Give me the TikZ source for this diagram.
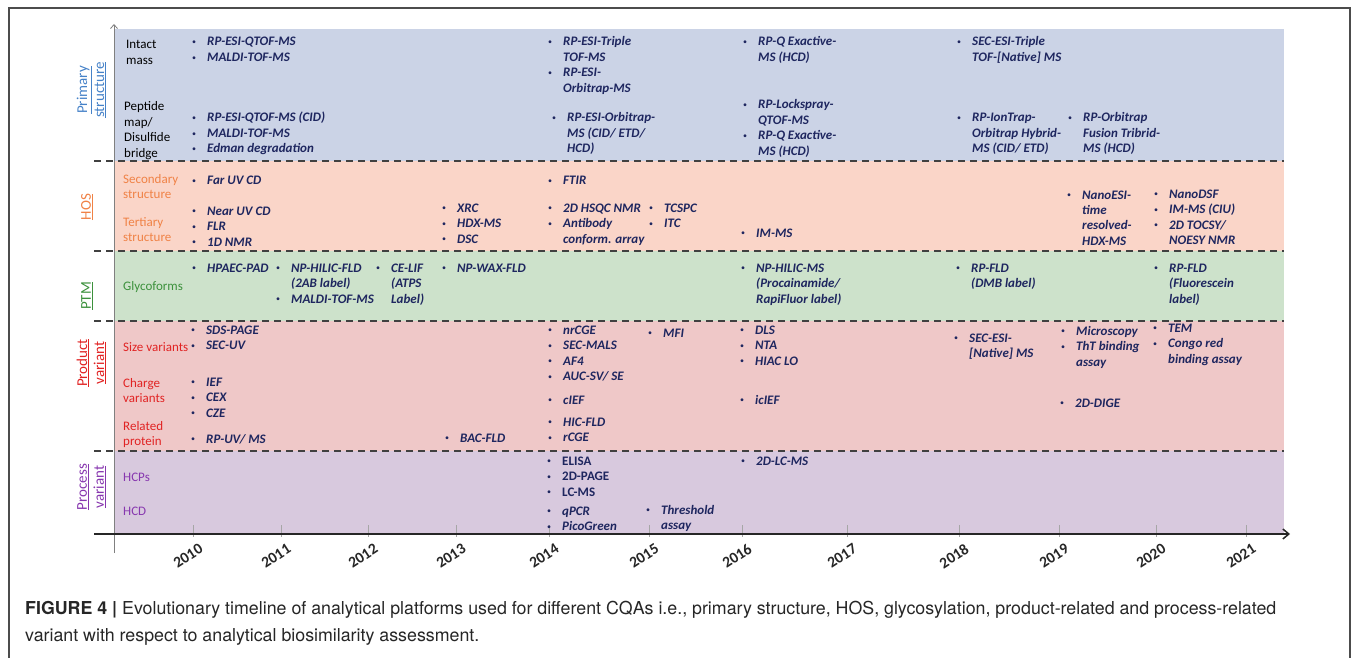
\documentclass[tikz,border=0pt]{standalone}
\usepackage{fontspec}
\setmainfont{Carlito}
\newfontfamily\capfont{TeX Gyre Heros}
\usetikzlibrary{arrows.meta}
\definecolor{bPrim}{RGB}{203,211,230}
\definecolor{bHOS}{RGB}{250,213,200}
\definecolor{bPTM}{RGB}{205,226,203}
\definecolor{bProd}{RGB}{239,200,200}
\definecolor{bProc}{RGB}{216,201,222}
\definecolor{cPrim}{RGB}{70,130,200}
\definecolor{cHOS}{RGB}{240,130,70}
\definecolor{cPTM}{RGB}{60,145,60}
\definecolor{cProd}{RGB}{225,35,35}
\definecolor{cProc}{RGB}{135,55,175}
\definecolor{navy}{RGB}{30,38,95}
\newcommand\itm{\makebox[13pt][l]{\makebox[0pt]{\raisebox{1.2pt}{\mdseries\upshape\fontsize{8}{8}\selectfont\textbullet}}}}
\newcommand\lst[1]{\begin{tabular}[t]{@{}l@{}l@{}}#1\end{tabular}}
\newcommand\cat[1]{\begin{tabular}[t]{@{}l@{}}#1\end{tabular}}
\tikzset{
  meth/.style={anchor=base west, inner sep=0pt, text=navy, font=\fontsize{13}{15.5}\selectfont\bfseries\itshape},
  methup/.style={meth, font=\fontsize{13}{15.5}\selectfont\bfseries},
  catlbl/.style={anchor=base west, inner sep=0pt, font=\fontsize{13}{15.5}\selectfont},
  bandlbl/.style={rotate=90, align=center, inner sep=0pt, font=\fontsize{15}{17}\selectfont},
  yearlbl/.style={rotate=33, inner sep=0pt, font=\fontsize{15.5}{17}\selectfont\bfseries, text=black!85},
  sepline/.style={black!75, line width=1.8pt, dash pattern=on 7pt off 5pt},
  tickline/.style={gray!70, line width=0.8pt},
  capt/.style={anchor=base west, inner sep=0pt, text=black!85, font=\capfont\fontsize{17.8}{20}\selectfont}
}
\begin{document}
\begin{tikzpicture}[x=1pt,y=-1pt]
\useasboundingbox (0,0) rectangle (1355,658);
% frame
\draw[gray!60!black, line width=1.5pt] (9,660) -- (9,8) -- (1350,8) -- (1350,660);
% bands
\fill[bPrim] (114,29) rectangle (1284,161);
\fill[bHOS] (114,161) rectangle (1284,251);
\fill[bPTM] (114,251) rectangle (1284,321);
\fill[bProd] (114,321) rectangle (1284,451);
\fill[bProc] (114,451) rectangle (1284,534);
% y axis
\draw[gray, line width=0.8pt, -{Straight Barb[length=4pt,width=7pt]}] (114,553) -- (114,24);
% separators
\foreach \yy in {161,251,321,451} \draw[sepline] (94,\yy) -- (1284,\yy);
% ticks and years
\foreach \xx/\yr in {193/2010,281/2011,368/2012,456/2013,549/2014,649/2015,742/2016,847/2017,959/2018,1059/2019,1156/2020,1246/2021}{
  \draw[tickline] (\xx,525) -- (\xx,537);
  \node[yearlbl] (y\yr) at (\xx-5,556) {\yr};
}
\draw[black!85, line width=1.5pt, -{Straight Barb[length=6pt,width=10pt]}] (94,534) -- (1290,534);
% band labels
\node[bandlbl, text=cPrim] (lPrim) at (91.5,90) {\underline{Primary}\\\underline{structure}};
\node[bandlbl, text=cHOS] (lHOS) at (87,207) {\underline{HOS}};
\node[bandlbl, text=cPTM] (lPTM) at (87,296) {\underline{PTM}};
\node[bandlbl, text=cProd] (lProd) at (91.5,363) {\underline{Product}\\\underline{variant}};
\node[bandlbl, text=cProc] (lProc) at (91.5,487) {\underline{Process}\\\underline{variant}};
% category labels
\node[catlbl, text=black] (c1) at (126,49) {\cat{Intact\\mass}};
\node[catlbl, text=black] (c2) at (124,111) {\cat{Peptide\\map/\\Disulfide\\bridge}};
\node[catlbl, text=cHOS] (c3) at (123,183) {\cat{Secondary\\structure}};
\node[catlbl, text=cHOS] (c4) at (123,226) {\cat{Tertiary\\structure}};
\node[catlbl, text=cPTM] (c5) at (123,290) {Glycoforms};
\node[catlbl, text=cProd] (c6) at (123,351) {Size variants};
\node[catlbl, text=cProd] (c7) at (123,387) {\cat{Charge\\variants}};
\node[catlbl, text=cProd] (c8) at (123,430) {\cat{Related\\protein}};
\node[catlbl, text=cProc] (c9) at (123,481) {HCPs};
\node[catlbl, text=cProc] (c10) at (123,515) {HCD};
% primary structure
\node[meth] (p1) at (194,46) {\lst{\itm&RP-ESI-QTOF-MS\\\itm&MALDI-TOF-MS}};
\node[meth] (p2) at (194,122) {\lst{\itm&RP-ESI-QTOF-MS (CID)\\\itm&MALDI-TOF-MS\\\itm&Edman degradation}};
\node[meth] (p3) at (550,46) {\lst{\itm&RP-ESI-Triple\\&TOF-MS\\\itm&RP-ESI-\\&Orbitrap-MS}};
\node[meth] (p4) at (554,122) {\lst{\itm&RP-ESI-Orbitrap-\\&MS (CID/ ETD/\\&HCD)}};
\node[meth] (p5) at (745,46) {\lst{\itm&RP-Q Exactive-\\&MS (HCD)}};
\node[meth] (p6) at (745,109) {\lst{\itm&RP-Lockspray-\\&QTOF-MS\\\itm&RP-Q Exactive-\\&MS (HCD)}};
\node[meth] (p7) at (959,46) {\lst{\itm&SEC-ESI-Triple\\&TOF-[Native] MS}};
\node[meth] (p8) at (959,122) {\lst{\itm&RP-IonTrap-\\&Orbitrap Hybrid-\\&MS (CID/ ETD)}};
\node[meth] (p9) at (1070,122) {\lst{\itm&RP-Orbitrap\\&Fusion Tribrid-\\&MS (HCD)}};
% HOS
\node[meth] (h1) at (194,185) {\lst{\itm&Far UV CD}};
\node[meth] (h2) at (194,215) {\lst{\itm&Near UV CD\\\itm&FLR\\\itm&1D NMR}};
\node[meth] (h3) at (444,212) {\lst{\itm&XRC\\\itm&HDX-MS\\\itm&DSC}};
\node[meth] (h4) at (550,185) {\lst{\itm&FTIR}};
\node[meth] (h5) at (550,212) {\lst{\itm&2D HSQC NMR\\\itm&Antibody\\&conform. array}};
\node[meth] (h6) at (651,212) {\lst{\itm&TCSPC\\\itm&ITC}};
\node[meth] (h7) at (743,237) {\lst{\itm&IM-MS}};
\node[meth] (h8) at (1069,199) {\lst{\itm&NanoESI-\\&time\\&resolved-\\&HDX-MS}};
\node[meth] (h9) at (1156,198) {\lst{\itm&NanoDSF\\\itm&IM-MS (CIU)\\\itm&2D TOCSY/\\&NOESY NMR}};
% PTM
\node[meth] (g1) at (194,272) {\lst{\itm&HPAEC-PAD}};
\node[meth] (g2) at (278,272) {\lst{\itm&NP-HILIC-FLD\\&(2AB label)\\\itm&MALDI-TOF-MS}};
\node[meth] (g3) at (378,272) {\lst{\itm&CE-LIF\\&(ATPS\\&Label)}};
\node[meth] (g4) at (444,272) {\lst{\itm&NP-WAX-FLD}};
\node[meth] (g5) at (743,272) {\lst{\itm&NP-HILIC-MS\\&(Procainamide/\\&RapiFluor label)}};
\node[meth] (g6) at (958,272) {\lst{\itm&RP-FLD\\&(DMB label)}};
\node[meth] (g7) at (1156,272) {\lst{\itm&RP-FLD\\&(Fluorescein\\&label)}};
% product variant
\node[meth] (r1) at (193,334) {\lst{\itm&SDS-PAGE\\\itm&SEC-UV}};
\node[meth] (r2) at (193,386) {\lst{\itm&IEF\\\itm&CEX\\\itm&CZE}};
\node[meth] (r3) at (193,443) {\lst{\itm&RP-UV/ MS}};
\node[meth] (r4) at (447,442) {\lst{\itm&BAC-FLD}};
\node[meth] (r5) at (550,334) {\lst{\itm&nrCGE\\\itm&SEC-MALS\\\itm&AF4\\\itm&AUC-SV/ SE}};
\node[meth] (r6) at (550,404) {\lst{\itm&cIEF}};
\node[meth] (r7) at (550,426) {\lst{\itm&HIC-FLD\\\itm&rCGE}};
\node[meth] (r8) at (650,337) {\lst{\itm&MFI}};
\node[meth] (r9) at (742,334) {\lst{\itm&DLS\\\itm&NTA\\\itm&HIAC LO}};
\node[meth] (r10) at (742,404) {\lst{\itm&icIEF}};
\node[meth] (r11) at (956,342) {\lst{\itm&SEC-ESI-\\&[Native] MS}};
\node[meth] (r12) at (1063,335) {\lst{\itm&Microscopy\\\itm&ThT binding\\&assay}};
\node[meth] (r13) at (1062,407) {\lst{\itm&2D-DIGE}};
\node[meth] (r14) at (1155,332) {\lst{\itm&TEM\\\itm&Congo red\\&binding assay}};
% process variant
\node[methup] (q1) at (549,465) {\lst{\itm&ELISA\\\itm&2D-PAGE\\\itm&LC-MS}};
\node[meth] (q2) at (549,515) {\lst{\itm&qPCR\\\itm&PicoGreen}};
\node[meth] (q3) at (648,514) {\lst{\itm&Threshold\\&assay}};
\node[meth] (q4) at (743,465) {\lst{\itm&2D-LC-MS}};
% caption
\node[capt] (cap1) at (25,614) {\textbf{FIGURE 4 |} Evolutionary timeline of analytical platforms used for different CQAs i.e., primary structure, HOS, glycosylation, product-related and process-related};
\node[capt] (cap2) at (25,641) {variant with respect to analytical biosimilarity assessment.};
\end{tikzpicture}
\end{document}
